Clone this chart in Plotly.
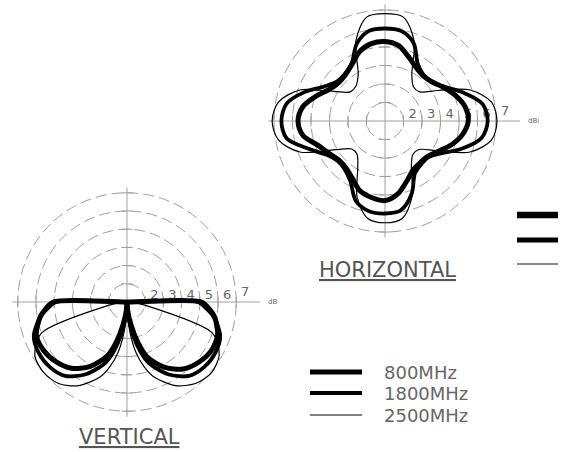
import plotly.graph_objects as go

# ---------------- data ----------------
FREQS = ["800MHz", "1800MHz", "2500MHz"]

# rings of the chart (grid circles) and their printed labels
RINGS = [1, 2, 3, 4, 5, 6]
RING_LABELS = ["2", "3", "4", "5", "6", "7"]

# Horizontal pattern, theta 0..360 step 10 deg
H_THETA = [0, 10, 20, 30, 40, 50, 60, 70, 80, 90, 100, 110, 120, 130, 140, 150, 160, 170,
           180, 190, 200, 210, 220, 230, 240, 250, 260, 270, 280, 290, 300, 310, 320, 330, 340, 350, 360]
H_800 = [4.5, 4.4, 4.05, 3.65, 3.3, 3.2, 3.35, 3.7, 4.15, 4.3, 4.25, 4.0, 3.55, 3.3, 3.25, 3.45, 3.95, 4.5,
         4.7, 4.5, 3.85, 3.5, 3.27, 3.3, 3.55, 4.0, 4.2, 4.3, 4.0, 3.45, 3.05, 2.95, 3.0, 3.3, 3.8, 4.25, 4.5]
H_1800 = [5.55, 5.35, 4.5, 3.7, 3.3, 3.25, 3.55, 4.5, 4.95, 5.0, 4.95, 4.45, 3.6, 3.35, 3.35, 3.75, 4.6, 5.4,
          5.6, 5.4, 4.4, 3.65, 3.35, 3.4, 3.75, 4.6, 4.95, 5.0, 4.9, 4.2, 3.25, 3.05, 3.05, 3.5, 4.4, 5.3, 5.55]
H_2500 = [6.05, 5.85, 4.9, 3.3, 2.45, 2.4, 2.9, 4.6, 5.7, 5.8, 5.7, 4.6, 2.9, 2.45, 2.45, 3.2, 4.9, 5.85,
          6.1, 5.85, 4.9, 3.1, 2.35, 2.35, 2.95, 4.4, 5.35, 5.5, 5.35, 4.3, 2.85, 2.35, 2.4, 3.2, 4.9, 5.85, 6.05]

# Vertical pattern (lower half only), path: centre -> left lobe -> centre -> right lobe -> centre
V_THETA = [180, 180, 185, 190, 200, 210, 220, 230, 240, 250, 255, 260, 265, 270,
           275, 280, 285, 290, 300, 310, 320, 330, 340, 350, 355, 360, 360]
V_800 = [0, 4.05, 4.5, 4.85, 5.3, 5.3, 5.1, 4.75, 4.1, 3.15, 2.3, 1.3, 0.5, 0,
         0.5, 1.3, 2.3, 3.2, 4.15, 4.8, 5.15, 5.35, 5.3, 4.9, 4.55, 4.1, 0]
V_1800 = [0, 3.9, 4.4, 4.85, 5.45, 5.6, 5.55, 5.3, 4.6, 3.6, 2.8, 1.8, 0.8, 0,
          0.8, 1.8, 2.8, 3.6, 4.6, 5.3, 5.55, 5.6, 5.45, 4.85, 4.4, 3.9, 0]
V_2500 = [0, 0.1, 0.4, 1.0, 5.0, 5.85, 6.0, 5.85, 5.3, 4.4, 3.7, 2.8, 1.5, 0,
          1.5, 2.8, 3.7, 4.4, 5.3, 5.85, 6.05, 5.85, 5.0, 1.0, 0.4, 0.1, 0]

H_SERIES = [H_800, H_1800, H_2500]
V_SERIES = [V_800, V_1800, V_2500]

# ---------------- style / geometry ----------------
W, H = 565, 452
WIDTHS = [5, 3.8, 1.2]
GRID = "#a0a0a0"
TXT = "#555555"
RMAX = 6.3
EXT = 7.3          # where the right arm of the cross-hair ends
UNIT_AT = 8.0      # where the unit label sits

# (centre x px, centre y px, px per ring) of each polar panel
H_GEO = (385, 121, 18.5)
V_GEO = (127, 302, 18.2)

fig = go.Figure()


def domain(geo):
    cx, cy, u = geo
    R = RMAX * u
    return [(cx - R) / W, (cx + R) / W], [(H - cy - R) / H, (H - cy + R) / H]


def px(x, y):
    return x / W, 1 - y / H


def decorations(sub, geo, unit_label):
    cx, cy, u = geo
    # ticks on the cross-hair at each ring
    th, rr, sym = [], [], []
    for ang in (0, 90, 180, 270):
        for r in RINGS:
            th.append(ang)
            rr.append(r)
            sym.append("line-ns" if ang in (0, 180) else "line-ew")
    fig.add_trace(go.Scatterpolar(r=rr, theta=th, mode="markers", subplot=sub, showlegend=False,
                                  hoverinfo="skip",
                                  marker=dict(symbol=sym, size=8, color=GRID,
                                              line=dict(color=GRID, width=1))))
    # right arm extension toward the unit label
    x0, y0 = px(cx + RMAX * u, cy)
    x1, _ = px(cx + EXT * u, cy)
    fig.add_shape(type="line", xref="paper", yref="paper", x0=x0, x1=x1, y0=y0, y1=y0,
                  line=dict(color=GRID, width=1), layer="below")
    # ring labels, each placed just outside the ring below its value
    inside = [lab for lab in RING_LABELS if float(lab) - 0.5 <= RMAX]
    outside = [lab for lab in RING_LABELS if float(lab) - 0.5 > RMAX]
    fig.add_trace(go.Scatterpolar(r=[float(v) - 0.5 for v in inside], theta=[0] * len(inside),
                                  mode="text", text=inside, textposition="top center",
                                  subplot=sub, showlegend=False, hoverinfo="skip",
                                  textfont=dict(size=13, color="#666666", family="DejaVu Sans")))
    for lab in outside:
        lx, ly = px(cx + (float(lab) - 0.5) * u, cy - 1)
        fig.add_annotation(x=lx, y=ly, xref="paper", yref="paper", text=lab, showarrow=False,
                           xanchor="center", yanchor="bottom",
                           font=dict(size=13, color="#666666", family="DejaVu Sans"))
    ux, uy = px(cx + UNIT_AT * u, cy)
    fig.add_annotation(x=ux, y=uy, xref="paper", yref="paper", text=unit_label, showarrow=False,
                       xanchor="center", yanchor="middle",
                       font=dict(size=7, color="#666666", family="DejaVu Sans"))


decorations("polar", H_GEO, "dBi")
decorations("polar2", V_GEO, "dB")

# draw thin first so thick lines sit on top
for i in (2, 1, 0):
    fig.add_trace(go.Scatterpolar(r=H_SERIES[i], theta=H_THETA, mode="lines", name=FREQS[i],
                                  subplot="polar", showlegend=False,
                                  line=dict(color="black", width=WIDTHS[i], shape="spline", smoothing=0.9)))
    fig.add_trace(go.Scatterpolar(r=V_SERIES[i], theta=V_THETA, mode="lines", name=FREQS[i],
                                  subplot="polar2", showlegend=False,
                                  line=dict(color="black", width=WIDTHS[i], shape="spline", smoothing=0.8)))


def polar_axes(geo):
    dx, dy = domain(geo)
    return dict(
        domain=dict(x=dx, y=dy),
        bgcolor="rgba(0,0,0,0)",
        radialaxis=dict(range=[0, RMAX], tickvals=RINGS, showticklabels=False, ticks="",
                        showline=False, gridcolor=GRID, griddash="11px,5px", gridwidth=1, angle=0),
        angularaxis=dict(tickvals=[0, 90, 180, 270], showticklabels=False, ticks="", showline=False,
                         gridcolor=GRID, gridwidth=1, direction="counterclockwise", rotation=0),
    )


fig.update_layout(
    width=W, height=H, margin=dict(l=0, r=0, t=0, b=0),
    paper_bgcolor="white", plot_bgcolor="white", showlegend=False,
    polar=polar_axes(H_GEO),
    polar2=polar_axes(V_GEO),
    font=dict(family="DejaVu Sans", color=TXT),
)

# titles
tx, ty = px(387, 270)
fig.add_annotation(x=tx, y=ty, xref="paper", yref="paper", text="<u>HORIZONTAL</u>",
                   showarrow=False, xanchor="center", yanchor="middle",
                   font=dict(size=21, color=TXT, family="DejaVu Sans"))
tx, ty = px(129, 437)
fig.add_annotation(x=tx, y=ty, xref="paper", yref="paper", text="<u>VERTICAL</u>",
                   showarrow=False, xanchor="center", yanchor="middle",
                   font=dict(size=21, color=TXT, family="DejaVu Sans"))

# legend (line samples + labels)
leg_y = [372, 393, 415]
for i, name in enumerate(FREQS):
    x0, y = px(310, leg_y[i])
    x1, _ = px(362, leg_y[i])
    fig.add_shape(type="line", xref="paper", yref="paper", x0=x0, x1=x1, y0=y, y1=y,
                  line=dict(color="black", width=WIDTHS[i]))
    lx, _ = px(382, leg_y[i])
    fig.add_annotation(x=lx, y=y, xref="paper", yref="paper", text=name, xanchor="left",
                       yanchor="middle", showarrow=False,
                       font=dict(size=18, color="#666666", family="DejaVu Sans"))

# clipped duplicate legend samples on the right edge
side_y = [215, 240, 264]
side_w = [6.5, 5, 1.3]
for i in range(3):
    x0, y = px(517, side_y[i])
    x1, _ = px(558, side_y[i])
    fig.add_shape(type="line", xref="paper", yref="paper", x0=x0, x1=x1, y0=y, y1=y,
                  line=dict(color="black" if i < 2 else "#666666", width=side_w[i]))

fig.write_html("out.html", config={"displayModeBar": False},
               post_script="document.body.style.margin='0px';")
